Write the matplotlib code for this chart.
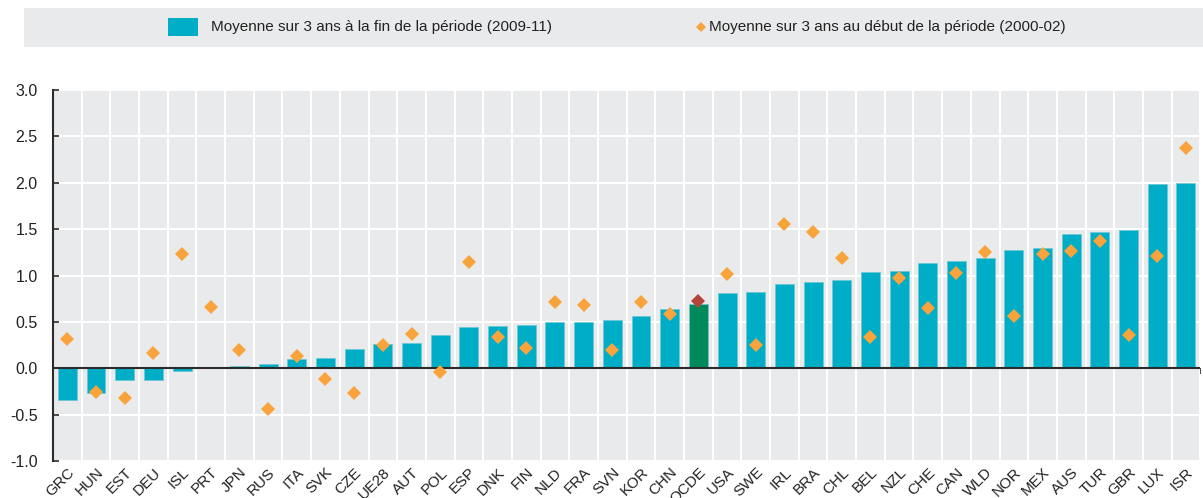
import matplotlib
matplotlib.use("Agg")
import matplotlib.pyplot as plt
import numpy as np
from matplotlib.patches import Rectangle
from matplotlib.lines import Line2D

categories = ["GRC", "HUN", "EST", "DEU", "ISL", "PRT", "JPN", "RUS", "ITA", "SVK",
              "CZE", "UE28", "AUT", "POL", "ESP", "DNK", "FIN", "NLD", "FRA", "SVN",
              "KOR", "CHN", "OCDE", "USA", "SWE", "IRL", "BRA", "CHL", "BEL", "NZL",
              "CHE", "CAN", "WLD", "NOR", "MEX", "AUS", "TUR", "GBR", "LUX", "ISR"]
end_period = [-0.345, -0.27, -0.13, -0.13, -0.035, 0.0, 0.02, 0.047, 0.097, 0.115,
              0.21, 0.26, 0.273, 0.356, 0.446, 0.46, 0.464, 0.496, 0.504, 0.518,
              0.565, 0.637, 0.694, 0.813, 0.824, 0.91, 0.928, 0.953, 1.04, 1.05,
              1.14, 1.155, 1.19, 1.273, 1.30, 1.446, 1.468, 1.49, 1.99, 1.993]
start_period = [0.32, -0.26, -0.32, 0.16, 1.23, 0.655, 0.20, -0.44, 0.137, -0.12,
                -0.27, 0.25, 0.374, -0.036, 1.147, 0.338, 0.223, 0.709, 0.683, 0.194,
                0.716, 0.583, 0.72, 1.014, 0.252, 1.55, 1.47, 1.19, 0.342, 0.975,
                0.651, 1.032, 1.248, 0.565, 1.23, 1.266, 1.374, 0.36, 1.205, 2.37]
yticks = [-1.0, -0.5, 0.0, 0.5, 1.0, 1.5, 2.0, 2.5, 3.0]
legend_labels = ["Moyenne sur 3 ans à la fin de la période (2009-11)",
                 "Moyenne sur 3 ans au début de la période (2000-02)"]
highlight = "OCDE"

BAR = "#00adc6"
BAR_HI = "#00895a"
DIA = "#f8a33b"
DIA_HI = "#b4443b"
BG = "#e9eaec"
TXT = "#222222"

W, H = 1203, 498
fig = plt.figure(figsize=(W / 100, H / 100), dpi=100)
ax = fig.add_axes([53 / W, 37 / H, (1200.3 - 53) / W, (461 - 90) / H])
ax.set_facecolor(BG)

x = np.arange(len(categories))
bar_colors = [BAR_HI if c == highlight else BAR for c in categories]
dia_colors = [DIA_HI if c == highlight else DIA for c in categories]

ax.bar(x, end_period, width=0.66, color=bar_colors, zorder=3,
       edgecolor="#6cc8d6", linewidth=0.5)
ax.set_xlim(-0.5, len(categories) - 0.5)
ax.set_ylim(-1.0, 3.0)

for xi, yi, ci in zip(x, start_period, dia_colors):
    ax.plot(xi, yi, marker="D", markersize=7, color=ci, markeredgewidth=0,
            linestyle="none", zorder=5)

ax.axhline(0, color="#2b2b2b", linewidth=1.5, zorder=4)

ax.set_yticks(yticks)
ax.set_yticklabels([f"{v:.1f}" for v in yticks], fontsize=11.5, color=TXT,
                   family="Liberation Sans")
ax.set_xticks(x)
ax.set_xticklabels(categories, rotation=45, ha="right", va="top",
                   rotation_mode="anchor", fontsize=11, color=TXT,
                   family="Liberation Sans")
ax.set_xticks(np.arange(len(categories) + 1) - 0.5, minor=True)
ax.tick_params(axis="x", which="both", length=0, pad=3)
ax.tick_params(axis="y", direction="in", length=4, width=1.2, color="#2b2b2b", pad=11)
ax.grid(True, which="major", axis="y", color="white", linewidth=1.5, zorder=1)
ax.grid(True, which="minor", axis="x", color="white", linewidth=1.5, zorder=1)
ax.set_axisbelow(True)

for s in ["top", "right", "bottom"]:
    ax.spines[s].set_visible(False)
ax.spines["left"].set_color("#2b2b2b")
ax.spines["left"].set_linewidth(1.5)

# small ticks on the zero line at category boundaries
sec = ax.secondary_xaxis(0.25)
sec.set_xticks(np.arange(len(categories) + 1) - 0.5)
sec.tick_params(direction="out", length=4, width=1.2, color="#2b2b2b", labelbottom=False)
sec.spines["bottom"].set_visible(False)
sec.set_xticklabels([])

# legend box
fig.add_artist(Rectangle((24 / W, 1 - 47 / H), (W - 24) / W, 39 / H,
                         transform=fig.transFigure, facecolor=BG, edgecolor="none"))
fig.add_artist(Rectangle((168 / W, 1 - 36 / H), 30 / W, 18 / H,
                         transform=fig.transFigure, facecolor=BAR, edgecolor="none"))
fig.text(211 / W, 1 - 27.5 / H, legend_labels[0], va="center", ha="left",
         fontsize=11, color=TXT, family="Liberation Sans")
fig.add_artist(Line2D([701 / W], [1 - 27.5 / H], marker="D", markersize=5.5,
                      color=DIA, markeredgewidth=0, transform=fig.transFigure))
fig.text(709 / W, 1 - 27.5 / H, legend_labels[1], va="center", ha="left",
         fontsize=11, color=TXT, family="Liberation Sans")

fig.savefig("out.png", dpi=100)
